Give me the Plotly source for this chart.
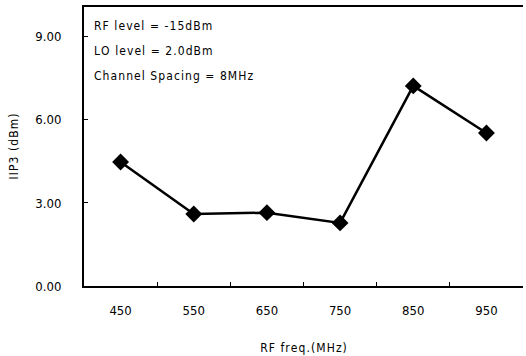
import plotly.graph_objects as go

freq = [450, 550, 650, 750, 850, 950]
iip3 = [4.48, 2.60, 2.65, 2.28, 7.23, 5.53]
x_tick_labels = ["450", "550", "650", "750", "850", "950"]
x_minor_ticks = [500, 600, 700, 800, 900]
y_ticks = [0, 3, 6, 9]
y_tick_labels = ["0.00", "3.00", "6.00", "9.00"]
notes = ["RF level = -15dBm", "LO level = 2.0dBm", "Channel Spacing = 8MHz"]
x_title = "RF freq.(MHz)"
y_title = "IIP3 (dBm)"

FONT = "DejaVu Sans Condensed, Liberation Sans Narrow, sans-serif"
HS = "\u200a"


def spaced(s):
    return HS.join(list(s))


fig = go.Figure()
fig.add_trace(go.Scatter(
    x=freq, y=iip3, mode="lines+markers",
    line=dict(color="black", width=2.5),
    marker=dict(symbol="diamond", size=13, color="black"),
    showlegend=False,
))

fig.update_layout(
    width=526, height=356,
    margin=dict(l=84, r=3, t=7, b=70),
    paper_bgcolor="white", plot_bgcolor="white",
    font=dict(family=FONT, color="black", size=12),
    xaxis=dict(
        range=[400, 1000],
        tickvals=freq, ticktext=x_tick_labels,
        ticks="", showgrid=False, zeroline=False,
        showline=True, linecolor="black", linewidth=2, mirror=True,
        ticklabelstandoff=11,
        tickfont=dict(size=13),
        minor=dict(tickvals=x_minor_ticks, ticks="inside", ticklen=4,
                   tickcolor="black", tickwidth=1),
        title=dict(text=spaced(x_title), font=dict(size=12), standoff=27),
    ),
    yaxis=dict(
        range=[0, 10.08],
        tickvals=y_ticks, ticktext=y_tick_labels,
        ticks="inside", ticklen=4, tickcolor="black",
        showgrid=False, zeroline=False,
        showline=True, linecolor="black", linewidth=2,
        ticklabelstandoff=18,
        tickfont=dict(size=13),
        title=dict(text=spaced(y_title), font=dict(size=12), standoff=14),
    ),
)

for i, t in enumerate(notes):
    fig.add_annotation(
        xref="paper", yref="paper", x=0.018, y=1 - (19 + 25 * i) / 279,
        xanchor="left", yanchor="middle", showarrow=False,
        text=spaced(t),
        font=dict(size=12, family=FONT),
    )

fig.write_html("out.html")
